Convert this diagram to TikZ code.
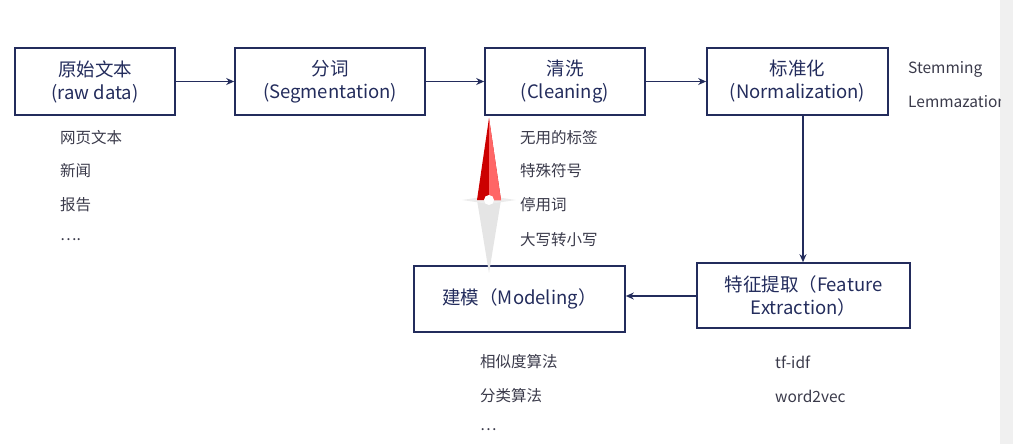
\documentclass[tikz,border=0pt]{standalone}
\usepackage{fontspec}
\setmainfont{Noto Sans CJK SC}
\usetikzlibrary{arrows.meta}
\definecolor{navy}{HTML}{232C5C}
\definecolor{txt}{HTML}{3A3A4A}
\begin{document}
\begin{tikzpicture}[x=1pt,y=-1pt,
  box/.style={draw=navy,line width=1.6pt,minimum height=67pt,align=center,font=\fontsize{18.5}{23}\selectfont,text=navy,inner sep=2pt},
  lst/.style={anchor=west,font=\fontsize{15.5}{17}\selectfont,text=txt,inner sep=0pt},
  arr/.style={draw=navy,line width=1.6pt,-{Stealth[length=8pt,width=7pt]}}]
\useasboundingbox (0,0) rectangle (1013,444);
\fill[gray!12] (1000,0) rectangle (1013,444);
\node[box,minimum width=160pt] (raw) at (95,81.5) {原始文本\\(raw data)};
\node[box,minimum width=190pt] (seg) at (330,81.5) {分词\\(Segmentation)};
\node[box,minimum width=160pt] (cle) at (565,81.5) {清洗\\(Cleaning)};
\node[box,minimum width=181pt] (nor) at (797.5,81.5) {标准化\\(Normalization)};
\node[box,minimum width=213pt,minimum height=65pt] (fea) at (803.5,295.5) {特征提取（Feature\\Extraction）};
\node[box,minimum width=211pt,minimum height=66pt] (mod) at (519.5,299) {建模（Modeling）};
\draw[arr] (raw) -- (seg);
\draw[arr] (seg) -- (cle);
\draw[arr] (cle) -- (nor);
\draw[arr] (nor.south -| 803,0) -- (fea.north -| 803,0);
\draw[arr] (fea.west |- 0,296) -- (mod.east |- 0,296);
\node[lst] (r1) at (60,138) {网页文本};
\node[lst] (r2) at (60,171) {新闻};
\node[lst] (r3) at (60,205) {报告};
\node[lst] (r4) at (60,240) {….};
\node[lst] (c1) at (520,138) {无用的标签};
\node[lst] (c2) at (520,171) {特殊符号};
\node[lst] (c3) at (520,205) {停用词};
\node[lst] (c4) at (520,240) {大写转小写};
\node[lst] (s1) at (908,69) {Stemming};
\begin{scope}
\clip (900,80) rectangle (1000,120);
\node[lst] (s2) at (908,102) {Lemmazation};
\end{scope}
\node[lst] (m1) at (480,362) {相似度算法};
\node[lst] (m2) at (480,396) {分类算法};
\node[lst] (m3) at (480,430) {…};
\node[lst] (f1) at (775,362) {tf-idf};
\node[lst] (f2) at (775,396) {word2vec};
% pointer
\fill[gray!20] (477,200) -- (489,273) -- (501,200) -- cycle;
\fill[gray!15] (462,200) -- (489,196) -- (516,200) -- (489,204) -- cycle;
\fill[red!80!black] (477,200) -- (489,118) -- (501,200) -- cycle;
\fill[red!60] (489,118) -- (501,200) -- (489,200) -- cycle;
\fill[white] (489,200) circle (5);
\end{tikzpicture}
\end{document}
